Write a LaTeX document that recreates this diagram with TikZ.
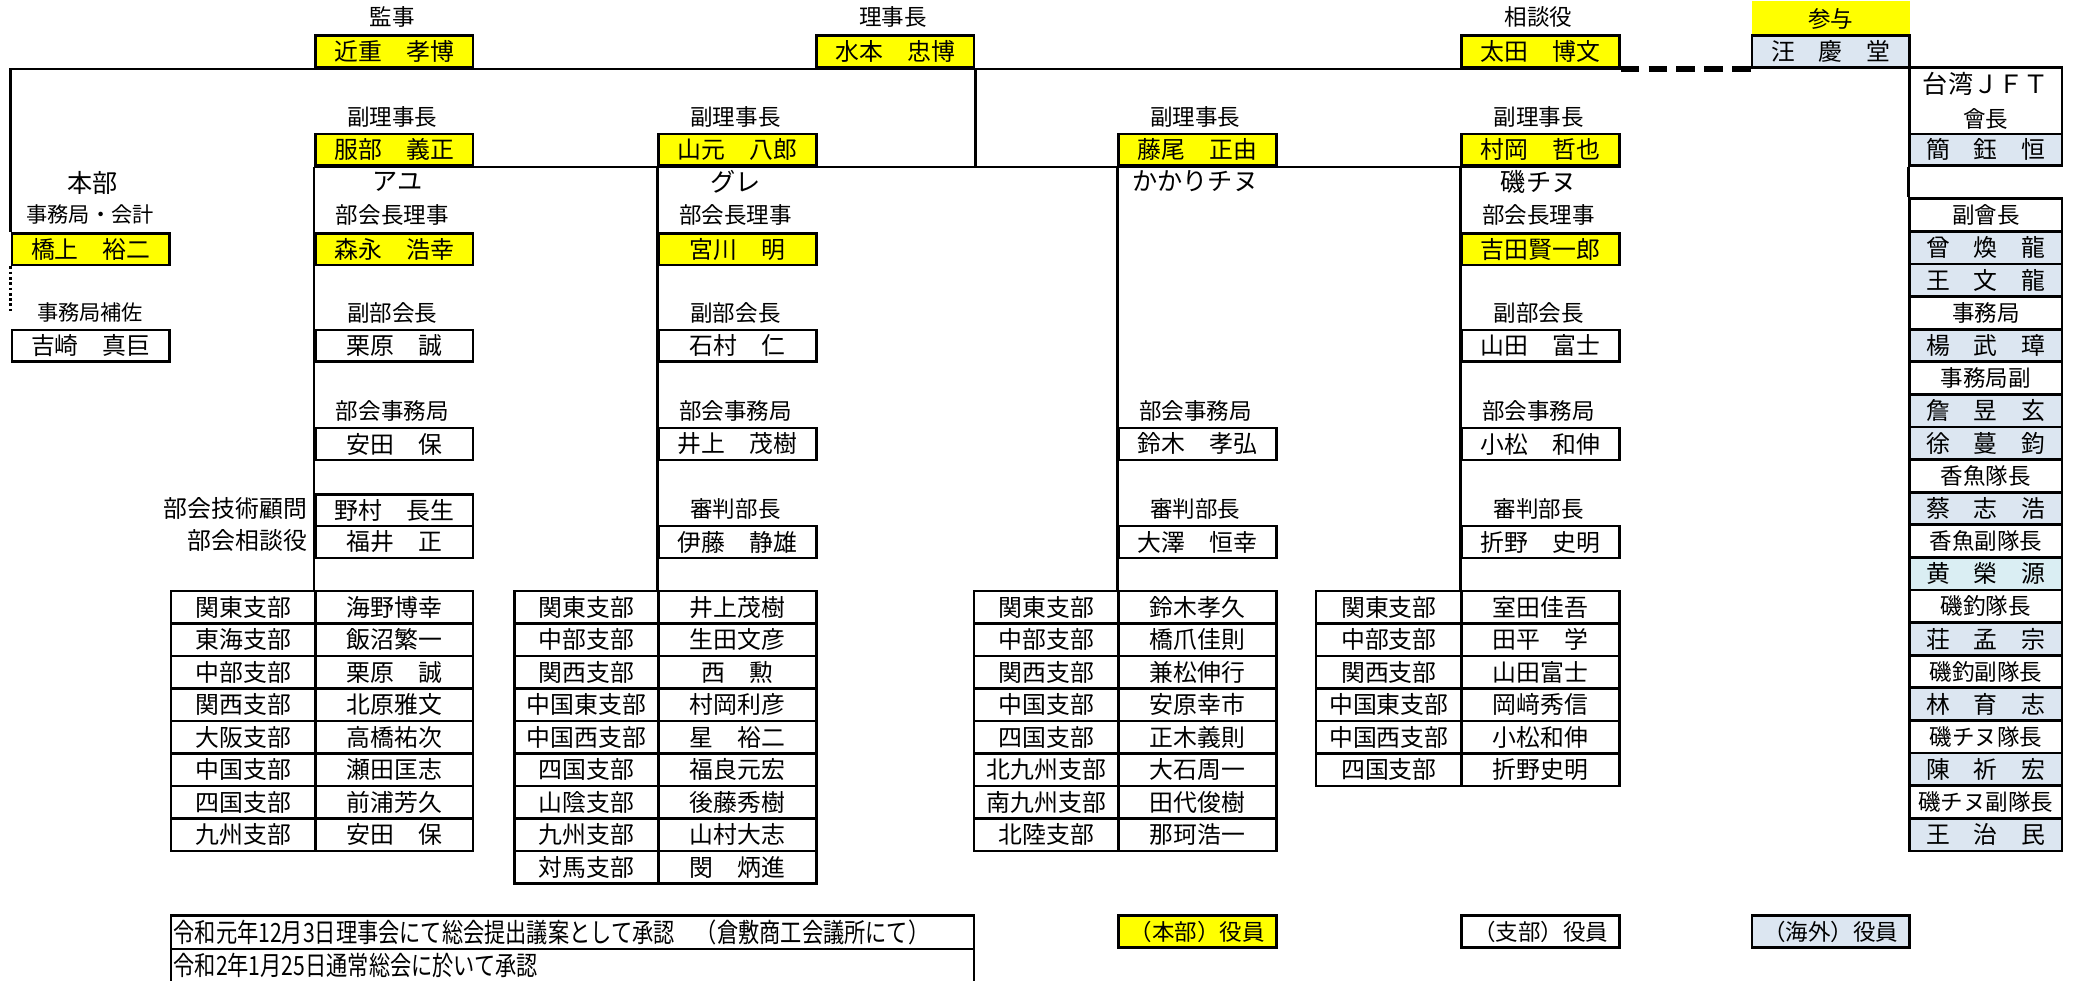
\documentclass[tikz,border=0pt]{standalone}
\usepackage{fontspec}
\setmainfont{Noto Sans CJK JP}
\definecolor{hq}{HTML}{FFFF00}
\definecolor{tw}{HTML}{DCE6F1}
\definecolor{twc}{HTML}{DAEEF3}
\tikzset{
  box/.style={draw, line width=1pt, anchor=north west, minimum width=59.5pt, minimum height=12pt, inner sep=0pt, font=\fontsize{9}{9}\selectfont},
  hqbox/.style={box, fill=hq},
  twbox/.style={box, fill=tw},
  role/.style={inner sep=0pt, font=\fontsize{8.5}{8.5}\selectfont},
  group/.style={inner sep=0pt, font=\fontsize{9.5}{9.5}\selectfont},
  cell/.style={draw, line width=1pt, anchor=north west, minimum height=12.25pt, inner sep=0pt, font=\fontsize{9}{9}\selectfont},
  link/.style={line width=1pt},
}

\begin{document}
\begin{tikzpicture}[x=0.5pt,y=-0.5pt]
  \useasboundingbox (0,0) rectangle (1568,740);
  % top row
  \node[role] (kanjiL) at (296,13) {監事};
  \node[hqbox] (kanji) at (237,26) {近重　孝博};
  \node[role] (rijichoL) at (674,13) {理事長};
  \node[hqbox] (rijicho) at (615,26) {水本　忠博};
  \node[role] (sodanL) at (1161,13) {相談役};
  \node[hqbox] (sodan) at (1102,26) {太田　博文};
  \node[box, draw=none, fill=hq, minimum height=13pt, font=\fontsize{8.5}{8.5}\selectfont] (sanyoL) at (1321,0) {参与};
  \node[twbox] (sanyo) at (1321,26) {汪　慶　堂};
  % vice chairmen
  \node[role] (fuku1L) at (296,88) {副理事長};
  \node[hqbox] (fuku1) at (237,100) {服部　義正};
  \node[role] (fuku2L) at (555,88) {副理事長};
  \node[hqbox] (fuku2) at (496,100) {山元　八郎};
  \node[role] (fuku3L) at (902,88) {副理事長};
  \node[hqbox] (fuku3) at (843,100) {藤尾　正由};
  \node[role] (fuku4L) at (1161,88) {副理事長};
  \node[hqbox] (fuku4) at (1102,100) {村岡　哲也};
  % honbu
  \node[group] (honbuL) at (70,138) {本部};
  \node[role, font=\fontsize{8}{8}\selectfont] (jimuL) at (68,162) {事務局・会計};
  \node[hqbox] (jimu) at (8,175) {橋上　裕二};
  \node[role, font=\fontsize{8}{8}\selectfont] (hosaL) at (68,236) {事務局補佐};
  \node[box] (hosa) at (8,248) {吉崎　真巨};
  \coordinate (dotEnd) at (8,236);
  % ayu
  \node[group] (ayuL) at (300,137) {アユ};
  \node[role] (ayu1L) at (296,162) {部会長理事};
  \node[hqbox] (ayu1) at (237,175) {森永　浩幸};
  \node[role] (ayu2L) at (296,236) {副部会長};
  \node[box] (ayu2) at (237,248) {栗原　誠};
  \node[role] (ayu3L) at (296,310) {部会事務局};
  \node[box] (ayu3) at (237,322) {安田　保};
  \node[role, anchor=east, font=\fontsize{9}{9}\selectfont] (ayu4L) at (232,384) {部会技術顧問};
  \node[box] (ayu4) at (237,372) {野村　長生};
  \node[role, anchor=east, font=\fontsize{9}{9}\selectfont] (ayu5L) at (232,408) {部会相談役};
  \node[box] (ayu5) at (237,396) {福井　正};
  % gure
  \node[group] (gureL) at (555,137) {グレ};
  \node[role] (gure1L) at (555,162) {部会長理事};
  \node[hqbox] (gure1) at (496,175) {宮川　明};
  \node[role] (gure2L) at (555,236) {副部会長};
  \node[box] (gure2) at (496,248) {石村　仁};
  \node[role] (gure3L) at (555,310) {部会事務局};
  \node[box] (gure3) at (496,322) {井上　茂樹};
  \node[role] (gure4L) at (555,384) {審判部長};
  \node[box] (gure4) at (496,396) {伊藤　静雄};
  % kakari chinu
  \node[group] (kakaL) at (902,137) {かかりチヌ};
  \node[role] (kaka3L) at (902,310) {部会事務局};
  \node[box] (kaka3) at (843,322) {鈴木　孝弘};
  \node[role] (kaka4L) at (902,384) {審判部長};
  \node[box] (kaka4) at (843,396) {大澤　恒幸};
  % iso chinu
  \node[group] (isoL) at (1161,137) {磯チヌ};
  \node[role] (iso1L) at (1161,162) {部会長理事};
  \node[hqbox] (iso1) at (1102,175) {吉田賢一郎};
  \node[role] (iso2L) at (1161,236) {副部会長};
  \node[box] (iso2) at (1102,248) {山田　富士};
  \node[role] (iso3L) at (1161,310) {部会事務局};
  \node[box] (iso3) at (1102,322) {小松　和伸};
  \node[role] (iso4L) at (1161,384) {審判部長};
  \node[box] (iso4) at (1102,396) {折野　史明};
  % branch tables
  \foreach \br/\nm [count=\i] in {関東支部/海野博幸, 東海支部/飯沼繁一, 中部支部/栗原　誠, 関西支部/北原雅文, 大阪支部/高橋祐次, 中国支部/瀬田匡志, 四国支部/前浦芳久, 九州支部/安田　保}
  {
    \node[cell, minimum width=54.5pt] (aa\i) at (128,{445+(\i-1)*24.5}) {\br};
    \node[cell, minimum width=59.5pt] (ab\i) at (237,{445+(\i-1)*24.5}) {\nm};
  }
  \foreach \br/\nm [count=\i] in {関東支部/井上茂樹, 中部支部/生田文彦, 関西支部/西　勲, 中国東支部/村岡利彦, 中国西支部/星　裕二, 四国支部/福良元宏, 山陰支部/後藤秀樹, 九州支部/山村大志, 対馬支部/閔　炳進}
  {
    \node[cell, minimum width=54.5pt] (ba\i) at (387,{445+(\i-1)*24.5}) {\br};
    \node[cell, minimum width=59.5pt] (bb\i) at (496,{445+(\i-1)*24.5}) {\nm};
  }
  \foreach \br/\nm [count=\i] in {関東支部/鈴木孝久, 中部支部/橋爪佳則, 関西支部/兼松伸行, 中国支部/安原幸市, 四国支部/正木義則, 北九州支部/大石周一, 南九州支部/田代俊樹, 北陸支部/那珂浩一}
  {
    \node[cell, minimum width=54.5pt] (ca\i) at (734,{445+(\i-1)*24.5}) {\br};
    \node[cell, minimum width=59.5pt] (cb\i) at (843,{445+(\i-1)*24.5}) {\nm};
  }
  \foreach \br/\nm [count=\i] in {関東支部/室田佳吾, 中部支部/田平　学, 関西支部/山田富士, 中国東支部/岡﨑秀信, 中国西支部/小松和伸, 四国支部/折野史明}
  {
    \node[cell, minimum width=55pt] (da\i) at (992,{445+(\i-1)*24.5}) {\br};
    \node[cell, minimum width=59.5pt] (db\i) at (1102,{445+(\i-1)*24.5}) {\nm};
  }
  % taiwan
  \node[box, minimum width=57.5pt, minimum height=25pt, align=center, font=\fontsize{9.5}{13}\selectfont] (jft) at (1440,50) {台湾ＪＦＴ\\{\fontsize{8.5}{8.5}\selectfont 會長}};
  \node[twbox, minimum width=57.5pt] (jftHead) at (1440,100) {簡　鈺　恒};
  \foreach \txt/\fl/\fs [count=\i] in {副會長/white/8.5, 曾　煥　龍/tw/9, 王　文　龍/tw/9, 事務局/white/8.5, 楊　武　璋/tw/9, 事務局副/white/8.5, 詹　昱　玄/tw/9, 徐　蔓　鈞/tw/9, 香魚隊長/white/8.5, 蔡　志　浩/tw/9, 香魚副隊長/white/8.5, 黄　榮　源/twc/9, 磯釣隊長/white/8.5, 荘　孟　宗/tw/9, 磯釣副隊長/white/8.5, 林　育　志/tw/9, 磯チヌ隊長/white/8.5, 陳　祈　宏/tw/9, 磯チヌ副隊長/white/8.5, 王　治　民/tw/9}
  {
    \node[box, fill=\fl, minimum width=57.5pt, minimum height=12.3pt, font=\fontsize{\fs}{\fs}\selectfont] (tw\i) at (1440,{149+(\i-1)*24.6}) {\txt};
  }
  % connectors
  \draw[link] (jimu.north west) |- (sodan.south east);
  \draw[link, dash pattern=on 1pt off 1pt] (jimu.south west) -- (dotEnd);
  \draw[line width=2pt, dash pattern=on 7pt off 3.5pt] (sodan.south east) -- (sanyo.south west);
  \draw[link] (rijicho.south east) |- (fuku4.south east);
  \draw[link] (fuku1.south west) -- (fuku4.south west);
  \draw[link] (fuku1.south west) -- (ab1.north west);
  \draw[link] (fuku2.south west) -- (bb1.north west);
  \draw[link] (fuku3.south west) -- (cb1.north west);
  \draw[link] (fuku4.south west) -- (db1.north west);
  \draw[link] (sanyo.south east) -- (jft.north west);
  \draw[link] (jftHead.south west) -- (tw1.north west);
  % notes and legend
  \node[cell, minimum width=303pt, minimum height=12.5pt, text width=301pt, inner xsep=1pt, align=left, font=\fontsize{10}{10}\selectfont] (note1) at (128,690) {\scalebox{0.8}[1]{令和元年12月3日理事会にて総会提出議案として承認　（倉敷商工会議所にて）}};
  \node[cell, minimum width=303pt, minimum height=12.5pt, text width=301pt, inner xsep=1pt, align=left, font=\fontsize{10}{10}\selectfont] (note2) at (128,715) {\scalebox{0.8}[1]{令和2年1月25日通常総会に於いて承認}};
  \node[hqbox, font=\fontsize{8.5}{8.5}\selectfont] (legHq) at (843,690) {（本部）役員};
  \node[box, font=\fontsize{8.5}{8.5}\selectfont] (legBr) at (1102,690) {（支部）役員};
  \node[twbox, font=\fontsize{8.5}{8.5}\selectfont] (legTw) at (1321,690) {（海外）役員};
\end{tikzpicture}
\end{document}
